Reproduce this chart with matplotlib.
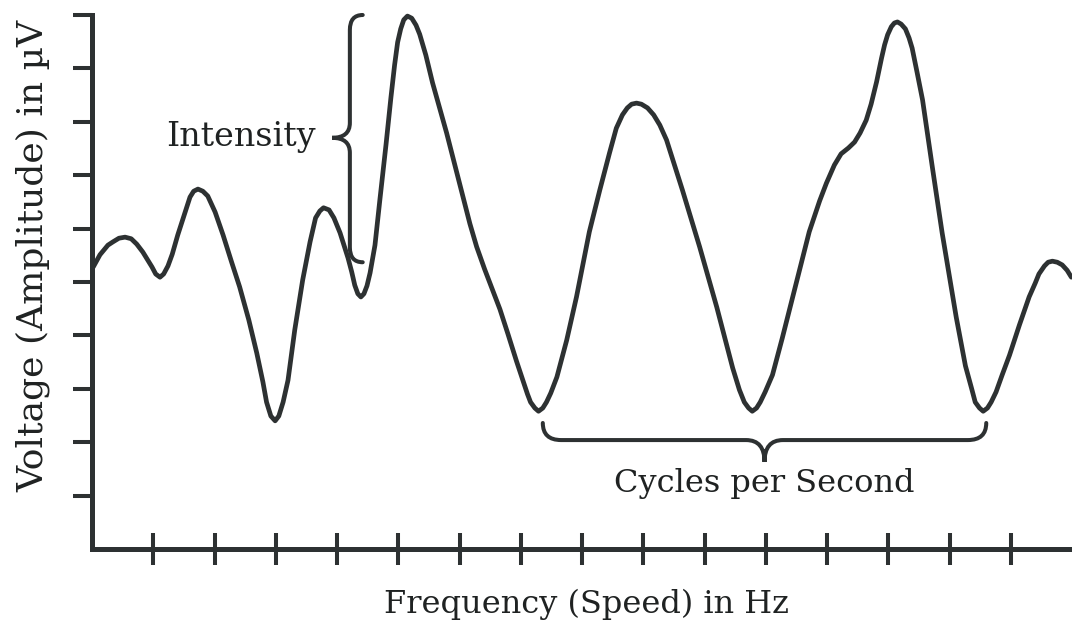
"""Sketch of a voltage/frequency waveform with annotated braces."""

import matplotlib
matplotlib.use("Agg")
import matplotlib.pyplot as plt
from matplotlib.path import Path
from matplotlib.patches import PathPatch

# waveform (x in tick units, y in tick units)
wave_x = [0.02, 0.13, 0.26, 0.34, 0.44, 0.54, 0.64, 0.73, 0.83, 0.91,
          0.98, 1.04, 1.11, 1.17, 1.24, 1.31, 1.40, 1.52, 1.60, 1.66,
          1.73, 1.81, 1.89, 2.01, 2.14, 2.28, 2.41, 2.56, 2.69, 2.79,
          2.85, 2.92, 2.99, 3.05, 3.12, 3.20, 3.31, 3.44, 3.56, 3.65,
          3.72, 3.78, 3.87, 3.95, 4.05, 4.18, 4.24, 4.29, 4.34, 4.39,
          4.44, 4.49, 4.54, 4.62, 4.70, 4.80, 4.88, 4.94, 4.99, 5.04,
          5.09, 5.15, 5.22, 5.29, 5.35, 5.45, 5.56, 5.79, 6.00, 6.17,
          6.28, 6.41, 6.54, 6.66, 6.79, 6.93, 7.05, 7.11, 7.16, 7.23,
          7.29, 7.36, 7.42, 7.49, 7.59, 7.75, 7.91, 8.12, 8.29, 8.45,
          8.56, 8.66, 8.74, 8.81, 8.89, 8.97, 9.07, 9.17, 9.27, 9.38,
          9.64, 9.92, 10.20, 10.46, 10.57, 10.65, 10.72, 10.78, 10.85, 10.91,
          10.99, 11.11, 11.27, 11.44, 11.71, 11.88, 11.99, 12.12, 12.23, 12.35,
          12.45, 12.54, 12.64, 12.72, 12.81, 12.89, 12.94, 12.99, 13.05, 13.10,
          13.15, 13.21, 13.28, 13.34, 13.39, 13.47, 13.56, 13.72, 13.88, 14.11,
          14.26, 14.36, 14.42, 14.49, 14.55, 14.62, 14.68, 14.76, 14.86, 14.98,
          15.14, 15.30, 15.40, 15.46, 15.55, 15.61, 15.68, 15.76, 15.84, 15.92,
          15.99]
wave_y = [5.28, 5.51, 5.69, 5.75, 5.82, 5.84, 5.81, 5.71, 5.56, 5.41,
          5.28, 5.15, 5.09, 5.15, 5.30, 5.52, 5.88, 6.31, 6.59, 6.70,
          6.74, 6.70, 6.61, 6.31, 5.88, 5.37, 4.91, 4.29, 3.67, 3.13,
          2.75, 2.49, 2.40, 2.49, 2.75, 3.16, 4.10, 5.04, 5.75, 6.20,
          6.33, 6.39, 6.35, 6.20, 5.92, 5.45, 5.19, 4.94, 4.78, 4.72,
          4.78, 4.93, 5.17, 5.69, 6.54, 7.57, 8.45, 9.06, 9.49, 9.74,
          9.91, 9.98, 9.94, 9.81, 9.64, 9.25, 8.73, 7.79, 6.85, 6.09,
          5.66, 5.24, 4.85, 4.49, 4.03, 3.52, 3.11, 2.90, 2.75, 2.64,
          2.58, 2.64, 2.75, 2.92, 3.22, 3.91, 4.72, 5.94, 6.72, 7.42,
          7.88, 8.13, 8.26, 8.33, 8.35, 8.33, 8.26, 8.13, 7.94, 7.66,
          6.72, 5.66, 4.53, 3.39, 2.98, 2.75, 2.64, 2.58, 2.64, 2.75,
          2.94, 3.26, 3.95, 4.72, 5.94, 6.52, 6.85, 7.19, 7.40, 7.51,
          7.62, 7.79, 8.03, 8.33, 8.75, 9.19, 9.44, 9.63, 9.78, 9.85,
          9.87, 9.83, 9.74, 9.57, 9.38, 8.93, 8.41, 7.15, 5.92, 4.34,
          3.43, 3.01, 2.75, 2.64, 2.58, 2.64, 2.75, 2.94, 3.26, 3.63,
          4.19, 4.72, 4.98, 5.15, 5.30, 5.37, 5.39, 5.37, 5.32, 5.22,
          5.09]

x_ticks = list(range(1, 16))
y_ticks = list(range(1, 11))

INK = "#2d3132"
TEXT = "#1f2222"
FONT = "DejaVu Serif"


def brace_path(start, end, tip, ax_dir, rx, ry):
    """Curly brace from start to end along one axis, pointing toward tip.

    ax_dir is "v" for a vertical spine, "h" for a horizontal one.
    rx, ry are the corner sizes in data units.
    """
    (x0, y0), (x1, y1), (tx, ty) = start, end, tip
    if ax_dir == "v":
        sx = x0 - rx if tx < x0 else x0 + rx      # spine x
        top, bot = max(y0, y1), min(y0, y1)
        verts = [(x0, top), (sx, top), (sx, top - ry),
                 (sx, ty + ry), (sx, ty), (tx, ty),
                 (sx, ty), (sx, ty - ry),
                 (sx, bot + ry), (sx, bot), (x0, bot)]
    else:
        sy = y0 - ry if ty < y0 else y0 + ry      # spine y
        lft, rgt = min(x0, x1), max(x0, x1)
        verts = [(lft, y0), (lft, sy), (lft + rx, sy),
                 (tx - rx, sy), (tx, sy), (tx, ty),
                 (tx, sy), (tx + rx, sy),
                 (rgt - rx, sy), (rgt, sy), (rgt, y0)]
    codes = [Path.MOVETO, Path.CURVE3, Path.CURVE3,
             Path.LINETO, Path.CURVE3, Path.CURVE3,
             Path.CURVE3, Path.CURVE3,
             Path.LINETO, Path.CURVE3, Path.CURVE3]
    return Path(verts, codes)


fig = plt.figure(figsize=(10.72, 6.2), dpi=100)
ax = fig.add_axes([92 / 1072, 71 / 620, 980 / 1072, 534 / 620])

ax.plot(wave_x, wave_y, color=INK, lw=3.4, solid_joinstyle="round",
        solid_capstyle="round", clip_on=False)

ax.set_xlim(0, 16)
ax.set_ylim(0, 10)
ax.set_xticks(x_ticks)
ax.set_yticks(y_ticks)
ax.set_xticklabels([])
ax.set_yticklabels([])
ax.tick_params(axis="x", direction="inout", length=23, width=2.9, color=INK)
ax.tick_params(axis="y", direction="out", length=14, width=2.9, color=INK)
for side in ("top", "right"):
    ax.spines[side].set_visible(False)
for side in ("left", "bottom"):
    ax.spines[side].set_linewidth(3.6)
    ax.spines[side].set_color(INK)

# "Intensity" brace, opening to the right
ax.add_patch(PathPatch(
    brace_path((4.42, 10.0), (4.42, 5.37), (3.92, 7.70), "v", 0.21, 0.28),
    fill=False, ec=INK, lw=2.9, capstyle="round", clip_on=False))
ax.text(3.66, 7.72, "Intensity", ha="right", va="center",
        fontsize=24, family=FONT, color=TEXT)

# "Cycles per Second" brace, opening upward
ax.add_patch(PathPatch(
    brace_path((7.36, 2.36), (14.60, 2.36), (10.98, 1.63), "h", 0.30, 0.32),
    fill=False, ec=INK, lw=2.9, capstyle="round", clip_on=False))
ax.text(10.98, 1.22, "Cycles per Second", ha="center", va="center",
        fontsize=23, family=FONT, color=TEXT)

fig.text(586 / 1072, 1 - 604 / 620, "Frequency (Speed) in Hz", ha="center",
         va="center", fontsize=23, family=FONT, color=TEXT)
fig.text(33 / 1072, 1 - 256 / 620, "Voltage (Amplitude) in µV", ha="center",
         va="center", rotation=90, fontsize=26, family=FONT, color=TEXT)

fig.savefig("out.png", dpi=100, facecolor="white")
